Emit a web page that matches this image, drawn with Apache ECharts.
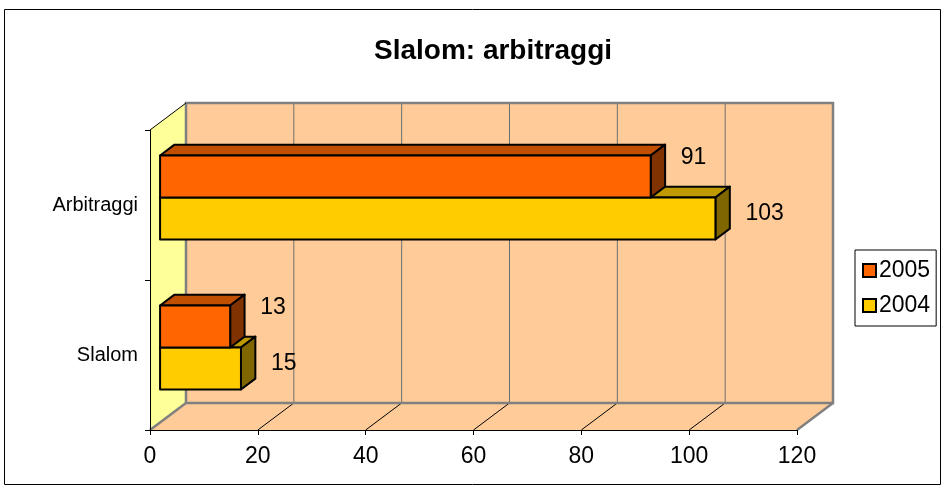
<!DOCTYPE html>
<html>
<head>
<meta charset="utf-8">
<script src="https://cdn.jsdelivr.net/npm/echarts@6/dist/echarts.min.js"></script>
<style>
html,body{margin:0;padding:0;background:#fff;}
#chart{width:947px;height:490px;}
</style>
</head>
<body>
<div id="chart"></div>
<script>
// ---- data ----
const categories = ['Slalom', 'Arbitraggi'];
const seriesNames = ['2005', '2004'];
const values2005 = [13, 91];
const values2004 = [15, 103];
const xTicks = [0, 20, 40, 60, 80, 100, 120];
const titleText = 'Slalom: arbitraggi';

// ---- styling / 3D projection ----
const FONT = 'Liberation Sans, Arial, sans-serif';
const DX = 36, DY = -27;          // full depth of the walls
const BAR_OFF = 0.28;             // bar front face depth fraction
const BAR_DEPTH = 0.40;           // bar depth fraction
const BAR_H = 0.28;               // bar height as fraction of category band

const faces = {
  '2005': {front: '#FF6600', top: '#C04F00', side: '#803300', slot: -1, labelDy: 2},
  '2004': {front: '#FFCC00', top: '#BF9900', side: '#806600', slot: 0, labelDy: 16}
};

const chart = echarts.init(document.getElementById('chart'), null, {renderer: 'canvas'});

function wallsRender(params, api) {
  const cs = params.coordSys;
  const x0 = cs.x, y0 = cs.y, w = cs.width, h = cs.height;
  const children = [];
  const gray = '#808080';
  children.push({type: 'polygon', shape: {points: [[x0, y0], [x0 + DX, y0 + DY], [x0 + DX, y0 + h + DY], [x0, y0 + h]]},
    style: {fill: '#FFFF99', stroke: null}});
  children.push({type: 'rect', shape: {x: x0 + DX, y: y0 + DY, width: w, height: h},
    style: {fill: '#FFCC99', stroke: null}});
  children.push({type: 'polygon', shape: {points: [[x0, y0 + h], [x0 + w, y0 + h], [x0 + w + DX, y0 + h + DY], [x0 + DX, y0 + h + DY]]},
    style: {fill: '#FFCC99', stroke: null}});
  xTicks.forEach(function (t, i) {
    const px = api.coord([t, 0])[0];
    if (i > 0 && i < xTicks.length - 1) {
      children.push({type: 'line', shape: {x1: px + DX, y1: y0 + DY, x2: px + DX, y2: y0 + h + DY},
        style: {stroke: '#6f6f6f', lineWidth: 1}});
      children.push({type: 'line', shape: {x1: px, y1: y0 + h, x2: px + DX, y2: y0 + h + DY},
        style: {stroke: '#000', lineWidth: 1}});
    }
  });
  children.push({type: 'polyline', shape: {points: [[x0 + DX, y0 + h + DY], [x0 + DX, y0 + DY], [x0 + w + DX, y0 + DY], [x0 + w + DX, y0 + h + DY], [x0 + DX, y0 + h + DY]]},
    style: {stroke: gray, lineWidth: 2.5, fill: null}});
  children.push({type: 'line', shape: {x1: x0 + w, y1: y0 + h, x2: x0 + w + DX, y2: y0 + h + DY}, style: {stroke: gray, lineWidth: 2.5}});
  children.push({type: 'line', shape: {x1: x0, y1: y0 + h, x2: x0 + DX, y2: y0 + h + DY}, style: {stroke: gray, lineWidth: 2.5}});
  children.push({type: 'line', shape: {x1: x0, y1: y0, x2: x0 + DX, y2: y0 + DY}, style: {stroke: '#000', lineWidth: 1}});
  return {type: 'group', children: children};
}

function barRender(name) {
  const f = faces[name];
  return function (params, api) {
    const v = api.value(0), cat = api.value(1);
    const c0 = api.coord([0, cat]);
    const c1 = api.coord([v, cat]);
    const band = api.size([0, 1])[1];
    const bh = band * BAR_H;
    const fx = DX * BAR_OFF, fy = DY * BAR_OFF;
    const dx = DX * BAR_DEPTH, dy = DY * BAR_DEPTH;
    const xl = c0[0] + fx, xr = c1[0] + fx;
    const yt = c0[1] + f.slot * bh + fy, yb = yt + bh;
    const st = {stroke: '#000', lineWidth: 2, lineJoin: 'round'};
    return {type: 'group', children: [
      {type: 'polygon', shape: {points: [[xl, yt], [xr, yt], [xr + dx, yt + dy], [xl + dx, yt + dy]]}, style: Object.assign({fill: f.top}, st)},
      {type: 'polygon', shape: {points: [[xr, yt], [xr + dx, yt + dy], [xr + dx, yb + dy], [xr, yb]]}, style: Object.assign({fill: f.side}, st)},
      {type: 'rect', shape: {x: xl, y: yt, width: xr - xl, height: bh}, style: Object.assign({fill: f.front}, st)},
      {type: 'text', style: {text: String(v), x: xr + 30, y: yt + f.labelDy, fill: '#000', font: '23px ' + FONT, textAlign: 'left', textVerticalAlign: 'middle'}}
    ]};
  };
}

const option = {
  backgroundColor: '#fff',
  animation: false,
  title: {text: titleText, left: 488, top: 32, textAlign: 'center',
    textStyle: {fontFamily: FONT, fontSize: 28, fontWeight: 'bold', color: '#000'}},
  legend: {
    data: seriesNames, orient: 'vertical', left: 855, top: 250,
    itemWidth: 13, itemHeight: 13, itemGap: 12,
    icon: 'rect', borderColor: '#000', borderWidth: 1, backgroundColor: '#fff',
    padding: [9, 6, 9, 7],
    textStyle: {fontFamily: FONT, fontSize: 23, color: '#000', padding: [0, 0, 0, -2]},
    selectedMode: false
  },
  grid: {left: 150, right: 150, top: 130, bottom: 60, containLabel: false},
  xAxis: {
    type: 'value', min: 0, max: 120, interval: 20, z: 10,
    axisLine: {show: true, lineStyle: {color: '#000', width: 1}},
    axisTick: {show: true, length: 5, lineStyle: {color: '#000'}},
    axisLabel: {fontFamily: FONT, fontSize: 23, color: '#000', margin: 15},
    splitLine: {show: false}
  },
  yAxis: {
    type: 'category', data: categories, z: 10,
    axisLine: {show: true, lineStyle: {color: '#000', width: 1}},
    axisTick: {show: true, length: 5, lineStyle: {color: '#000'}},
    axisLabel: {fontFamily: FONT, fontSize: 20, color: '#000', margin: 12}
  },
  graphic: [{type: 'rect', shape: {x: 4.5, y: 9.5, width: 936, height: 475}, style: {fill: null, stroke: '#000', lineWidth: 1}, z: 100, silent: true}],
  series: [
    {type: 'custom', name: 'walls', renderItem: wallsRender, data: [[0, 0]], z: 1, silent: true, clip: false},
    {type: 'custom', name: '2004', renderItem: barRender('2004'), z: 3,
      itemStyle: {color: faces['2004'].front, borderColor: '#000', borderWidth: 1.5},
      data: values2004.map(function (v, i) { return [v, i]; })},
    {type: 'custom', name: '2005', renderItem: barRender('2005'), z: 4,
      itemStyle: {color: faces['2005'].front, borderColor: '#000', borderWidth: 1.5},
      data: values2005.map(function (v, i) { return [v, i]; })}
  ]
};
chart.setOption(option);
</script>
</body>
</html>
